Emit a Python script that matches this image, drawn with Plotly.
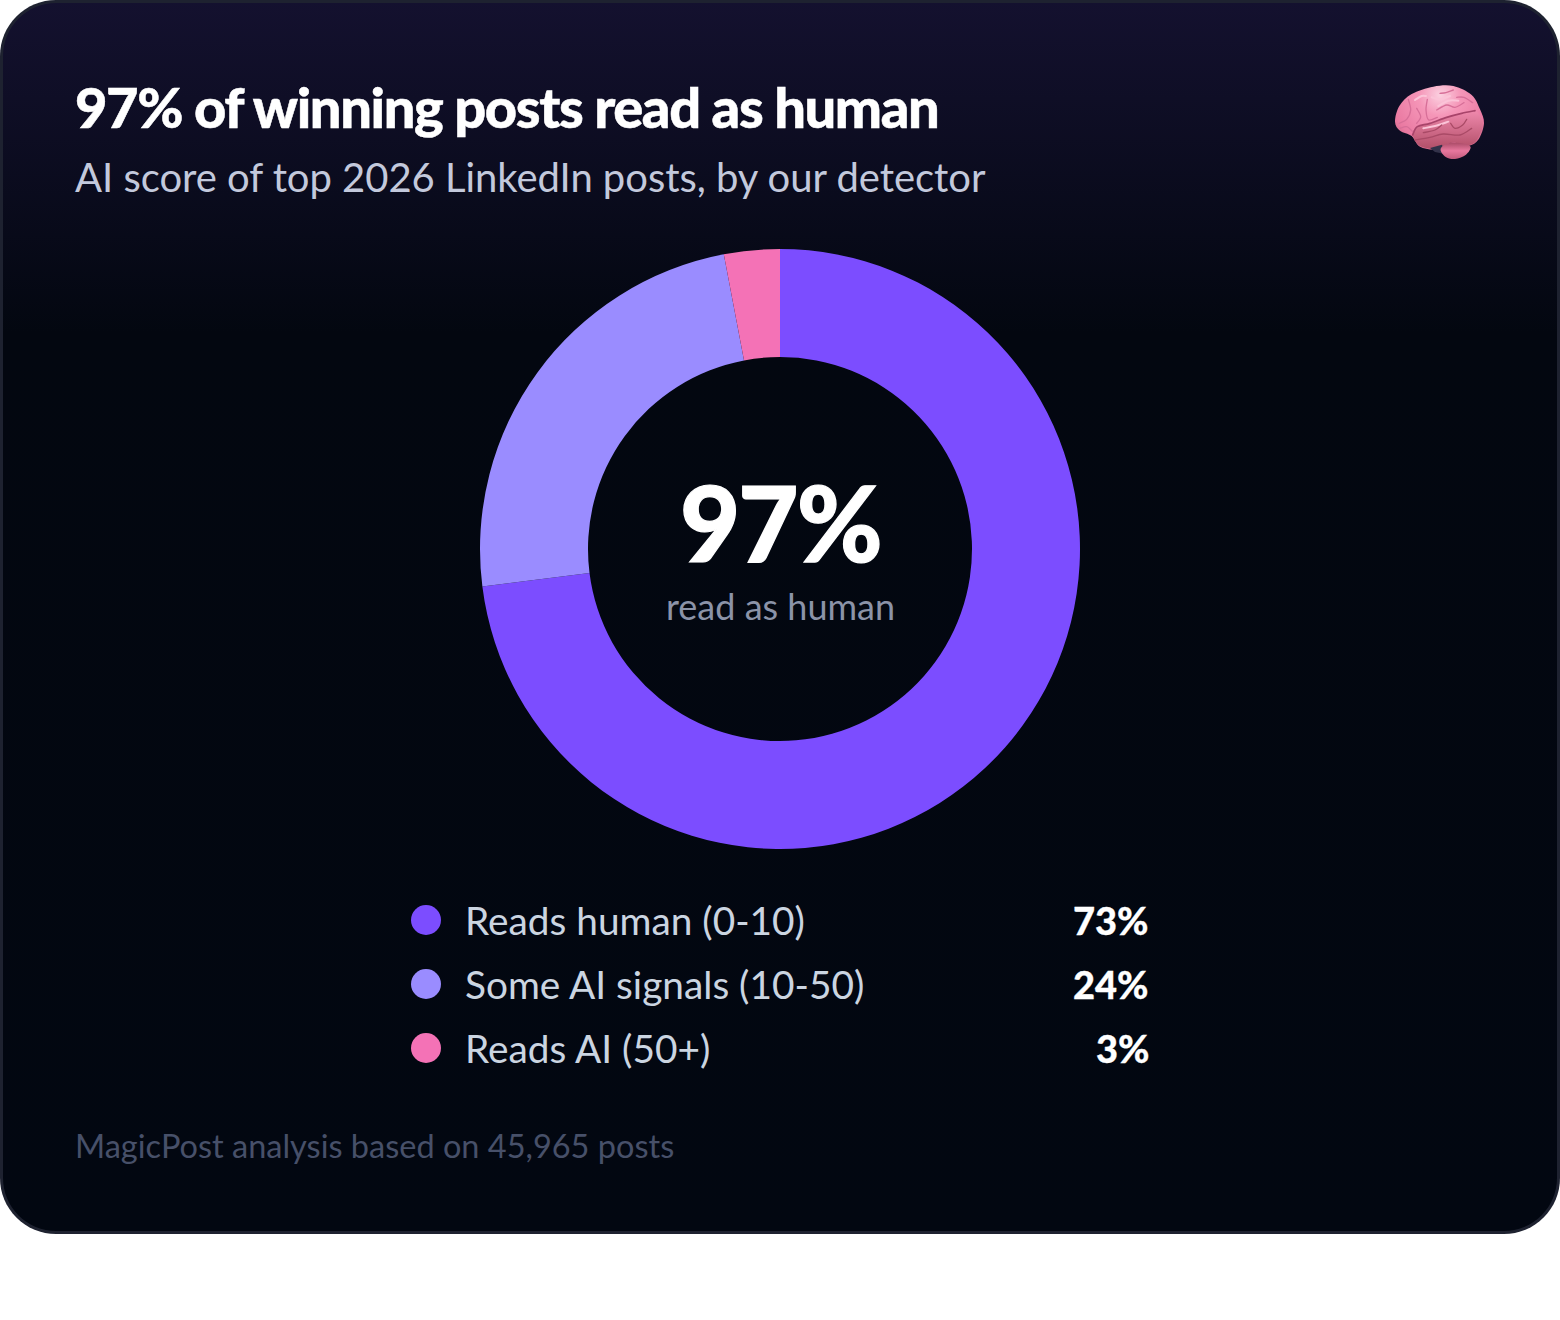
import base64
import math
import plotly.graph_objects as go

# Chart data
SEGMENT_LABELS = ["Reads human (0-10)", "Some AI signals (10-50)", "Reads AI (50+)"]
SEGMENT_VALUES = [73, 24, 3]
SEGMENT_COLORS = ["#7c4dff", "#9a8cff", "#f472b6"]
TITLE = "97% of winning posts read as human"
SUBTITLE = "AI score of top 2026 LinkedIn posts, by our detector"
CENTER_VALUE = "97%"
CENTER_CAPTION = "read as human"
FOOTNOTE = "MagicPost analysis based on 45,965 posts"

W, H = 1560, 1320
CARD_H, CARD_R = 1234, 56
FONT = "Lato"


def card_outline(w, h, r, inset):
    """Closed rounded-rectangle outline sampled as x and y lists."""
    xs, ys = [], []
    corners = [
        (w - r, r, -90), (w - r, h - r, 0), (r, h - r, 90), (r, r, 180),
    ]
    for cx, cy, start in corners:
        for step in range(17):
            a = math.radians(start + step * 90 / 16)
            xs.append(cx + (r - inset) * math.cos(a))
            ys.append(cy + (r - inset) * math.sin(a))
    xs.append(xs[0])
    ys.append(ys[0])
    return xs, ys


def smooth(points):
    """Catmull-Rom curve through the points, as an SVG path."""
    n = len(points)
    d = f"M{points[0][0]},{points[0][1]}"
    for i in range(n):
        p0, p1, p2, p3 = (points[(i + k) % n] for k in (-1, 0, 1, 2))
        c1 = (p1[0] + (p2[0] - p0[0]) / 6, p1[1] + (p2[1] - p0[1]) / 6)
        c2 = (p2[0] - (p3[0] - p1[0]) / 6, p2[1] - (p3[1] - p1[1]) / 6)
        d += f"C{c1[0]:.1f},{c1[1]:.1f} {c2[0]:.1f},{c2[1]:.1f} {p2[0]},{p2[1]}"
    return d + "Z"


def open_line(points):
    d = f"M{points[0][0]},{points[0][1]}"
    n = len(points)
    for i in range(n - 1):
        p0 = points[max(i - 1, 0)]
        p1, p2 = points[i], points[i + 1]
        p3 = points[min(i + 2, n - 1)]
        c1 = (p1[0] + (p2[0] - p0[0]) / 6, p1[1] + (p2[1] - p0[1]) / 6)
        c2 = (p2[0] - (p3[0] - p1[0]) / 6, p2[1] - (p3[1] - p1[1]) / 6)
        d += f"C{c1[0]:.1f},{c1[1]:.1f} {c2[0]:.1f},{c2[1]:.1f} {p2[0]},{p2[1]}"
    return d


# Brain icon, drawn as a small vector graphic
BRAIN_BODY = [(165, 185), (178, 138), (215, 102), (280, 80), (340, 78), (395, 105),
              (420, 148), (432, 190), (416, 238), (385, 258), (335, 250), (290, 268),
              (240, 260), (215, 228), (180, 212)]
TEMPORAL_LOBE = [(218, 225), (232, 200), (270, 190), (320, 172), (365, 160), (405, 152),
                 (428, 190), (412, 238), (385, 256), (335, 248), (290, 266), (240, 258)]
CEREBELLUM = [(302, 266), (330, 248), (375, 252), (392, 262), (378, 284), (345, 297), (316, 290)]
DEEP_FOLDS = [
    [(218, 225), (232, 200), (270, 190), (320, 172), (365, 160), (405, 152)],
]
FOLDS = [
    [(205, 118), (212, 150), (200, 178), (178, 190)],
    [(262, 118), (258, 150), (266, 180), (292, 172)],
    [(300, 100), (318, 98), (340, 90)],
    [(290, 150), (320, 135), (345, 142), (372, 128)],
    [(350, 112), (372, 112), (398, 128)],
    [(230, 145), (242, 170), (230, 190)],
    [(180, 205), (200, 200), (218, 215)],
]
HIGHLIGHTS = [
    [(225, 120), (245, 108), (258, 108)],
    [(275, 112), (300, 118), (330, 108)],
    [(295, 138), (325, 122), (355, 122)],
    [(250, 205), (285, 198), (325, 185)],
]
LOWER_FOLDS = [
    [(225, 240), (270, 232), (310, 222), (360, 225), (395, 205)],
    [(332, 190), (345, 205), (368, 195), (380, 178)],
    [(250, 218), (285, 210), (305, 195)],
]


def strokes(paths, color, width):
    return "".join(
        f'<path d="{open_line(p)}" fill="none" stroke="{color}" stroke-width="{width}" '
        'stroke-linecap="round"/>' for p in paths
    )


brain_svg = (
    '<svg xmlns="http://www.w3.org/2000/svg" width="540" height="360" viewBox="0 0 540 360">'
    '<defs><radialGradient id="g" gradientUnits="userSpaceOnUse" cx="300" cy="105" r="210">'
    '<stop offset="0" stop-color="#fbd0e0"/><stop offset="0.3" stop-color="#f596b8"/>'
    '<stop offset="0.7" stop-color="#ea7aa2"/><stop offset="1" stop-color="#b8556f"/>'
    '</radialGradient>'
    '<linearGradient id="t" x1="0" y1="0" x2="0" y2="1">'
    '<stop offset="0" stop-color="#f08aae"/><stop offset="1" stop-color="#b24f68"/>'
    '</linearGradient>'
    '<linearGradient id="c" x1="0" y1="0" x2="0" y2="1">'
    '<stop offset="0" stop-color="#a94a66"/><stop offset="0.5" stop-color="#e8789e"/>'
    '<stop offset="1" stop-color="#c25a7c"/>'
    '</linearGradient></defs>'
    f'<path d="{smooth(BRAIN_BODY)}" fill="url(#g)"/>'
    f'<path d="{smooth(TEMPORAL_LOBE)}" fill="url(#t)"/>'
    '<path d="M270,264 L306,254 L314,282 L285,276 Z" fill="#33324a"/>'
    f'<path d="{smooth(CEREBELLUM)}" fill="url(#c)"/>'
    + strokes(HIGHLIGHTS, "#fbc4d8", 6)
    + strokes(DEEP_FOLDS, "#a8446a", 5)
    + strokes(FOLDS, "#d76f98", 4)
    + strokes(LOWER_FOLDS, "#a94a66", 4)
    + '</svg>'
)
brain_uri = "data:image/svg+xml;base64," + base64.b64encode(brain_svg.encode()).decode()

fig = go.Figure()

# Card border and gradient background
ox, oy = card_outline(W, CARD_H, CARD_R, 0)
fig.add_trace(go.Scatter(
    x=ox, y=oy, mode="none", fill="toself", fillcolor="#1e2230",
    hoverinfo="skip", showlegend=False,
))
ix, iy = card_outline(W, CARD_H, CARD_R, 3)
fig.add_trace(go.Scatter(
    x=ix, y=iy, mode="none", fill="toself",
    fillgradient=dict(
        type="vertical", start=0, stop=CARD_H,
        colorscale=[[0, "#14112f"], [0.27, "#030710"], [1, "#020711"]],
    ),
    hoverinfo="skip", showlegend=False,
))

# Donut
fig.add_trace(go.Pie(
    labels=SEGMENT_LABELS, values=SEGMENT_VALUES, hole=0.64, sort=False,
    direction="clockwise", rotation=0, textinfo="none", showlegend=False,
    marker=dict(colors=SEGMENT_COLORS, line=dict(width=0)),
    domain=dict(x=[480 / W, 1080 / W], y=[1 - 849 / H, 1 - 249 / H]),
))

# Legend dots
ROW_Y = [920, 984, 1048]
fig.add_trace(go.Scatter(
    x=[426] * len(ROW_Y), y=ROW_Y, mode="markers",
    marker=dict(size=30, color=SEGMENT_COLORS, line=dict(width=0)),
    hoverinfo="skip", showlegend=False,
))


def label(x, y, text, size, color, anchor="left", weight=400, spacing=0, stroke=0):
    style = f"font-weight:{weight};letter-spacing:{spacing}px"
    if stroke:
        style += f";stroke:{color};stroke-width:{stroke}px"
    fig.add_annotation(
        x=x, y=y, xref="x", yref="y", text=f'<span style="{style}">{text}</span>',
        showarrow=False, xanchor=anchor, yanchor="middle", align=anchor,
        borderpad=0, font=dict(family=FONT, size=size, color=color),
    )


label(74, 106, TITLE, 56, "#ffffff", weight=900, spacing=-1.4, stroke=0.5)
label(74, 177, SUBTITLE, 40, "#c3c9dc", spacing=-0.04)
label(780, 521, CENTER_VALUE, 104, "#ffffff", anchor="center", weight=900, spacing=-2, stroke=1.2)
label(780, 606, CENTER_CAPTION, 36, "#8b93a8", anchor="center")
for y, name, value in zip(ROW_Y, SEGMENT_LABELS, SEGMENT_VALUES):
    label(464, y, name, 38.8, "#cbd5e1")
    label(1150, y, f"{value}%", 38, "#ffffff", anchor="right", weight=900, stroke=0.3)
label(74, 1145, FOOTNOTE, 32.5, "#475069")

fig.update_layout(
    width=W, height=H, margin=dict(l=0, r=0, t=0, b=0),
    paper_bgcolor="#ffffff", plot_bgcolor="rgba(0,0,0,0)",
    xaxis=dict(range=[0, W], visible=False, fixedrange=True),
    yaxis=dict(range=[H, 0], visible=False, fixedrange=True),
    images=[dict(
        source=brain_uri, xref="x", yref="y", x=1340, y=60, sizex=180, sizey=120,
        sizing="stretch", xanchor="left", yanchor="top", layer="above",
    )],
)

fig.write_html("out.html", config=dict(displayModeBar=False))
